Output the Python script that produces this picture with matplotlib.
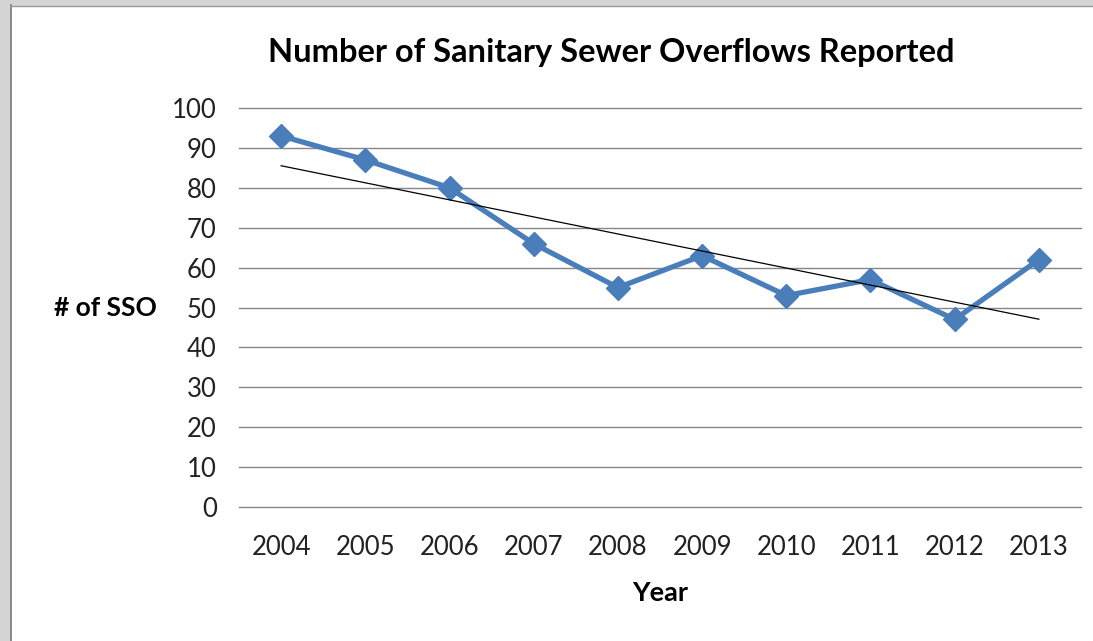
import matplotlib.pyplot as plt
import numpy as np
from matplotlib.patches import Rectangle

plt.rcParams['font.family'] = ['Lato', 'DejaVu Sans']

# overflows reported per year
years = ["2004", "2005", "2006", "2007", "2008", "2009", "2010", "2011", "2012", "2013"]
sso_count = [93, 87, 80, 66, 55, 63, 53, 57, 47, 62]
y_ticks = [0, 10, 20, 30, 40, 50, 60, 70, 80, 90, 100]

fig = plt.figure(figsize=(10.93, 6.41), dpi=100)
ax = fig.add_axes([0.2187, 0.209, 0.7703, 0.6225])

x = np.arange(len(years))
ax.plot(x, sso_count, color="#4A7EBB", lw=3.8, marker="D", ms=12,
        markerfacecolor="#4A7EBB", markeredgecolor="#4A7EBB", zorder=3)

# linear trendline
slope, intercept = np.polyfit(x, sso_count, 1)
ax.plot(x, slope * x + intercept, color="black", lw=0.9, zorder=4)

ax.set_xlim(-0.5, len(years) - 0.5)
ax.set_ylim(0, 100)
ax.set_yticks(y_ticks)
ax.set_xticks(x)
ax.set_xticklabels(years)
ax.grid(axis="y", color="#868686", lw=1)
for gl in ax.get_ygridlines():
    gl.set_clip_on(False)
ax.set_axisbelow(True)
for s in ax.spines.values():
    s.set_visible(False)
ax.tick_params(length=0, labelsize=18.5, colors="#222222")
ax.tick_params(axis="y", pad=16)
ax.tick_params(axis="x", pad=20)

ax.set_title("Number of Sanitary Sewer Overflows Reported", fontsize=23.5,
             fontweight="bold", pad=33, x=0.442)
ax.set_xlabel("Year", fontsize=19.5, fontweight="bold", labelpad=15)
ax.set_ylabel("# of SSO", fontsize=19, fontweight="bold", rotation=0,
              ha="right", va="center", labelpad=11)

# window frame around the chart
fig.patches.append(Rectangle((0, 0), 10 / 1093, 1, transform=fig.transFigure,
                             color="#d4d4d4", zorder=0))
fig.patches.append(Rectangle((0, 1 - 5 / 641), 1, 5 / 641, transform=fig.transFigure,
                             color="#d4d4d4", zorder=0))
fig.add_artist(plt.Line2D([11 / 1093, 11 / 1093], [0, 1 - 5 / 641],
                          transform=fig.transFigure, color="#7a7a7a", lw=1.2))
fig.add_artist(plt.Line2D([11 / 1093, 1], [1 - 6 / 641, 1 - 6 / 641],
                          transform=fig.transFigure, color="#9a9a9a", lw=1))

fig.savefig("out.png", dpi=100)
